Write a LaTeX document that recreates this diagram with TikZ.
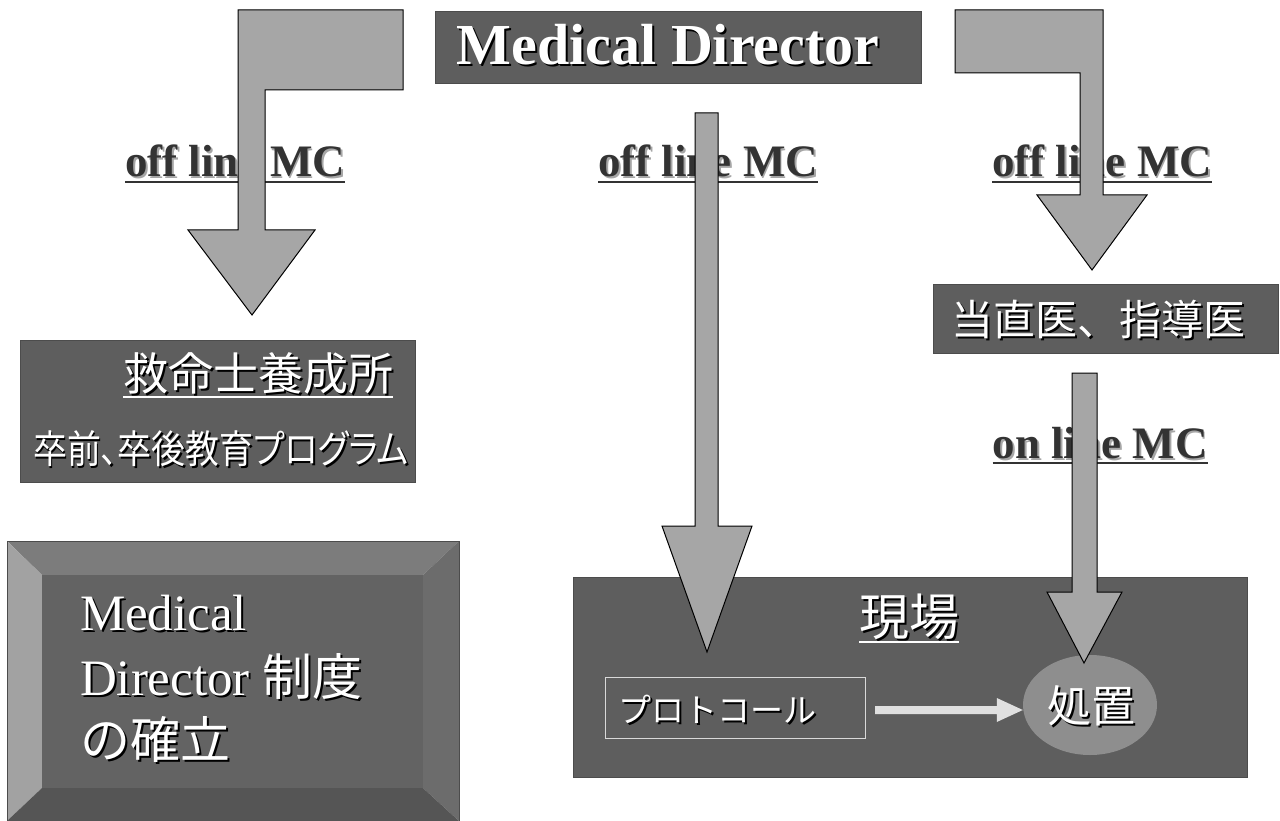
\documentclass[tikz,border=0pt]{standalone}
\usepackage{fontspec}
\usepackage{graphicx}
\setmainfont{Liberation Serif}
\newfontfamily\jp{Noto Sans CJK JP}
\newfontfamily\jpp[RawFeature=+palt]{Noto Sans CJK JP}
\usetikzlibrary{calc,shapes.geometric}
\definecolor{boxgray}{HTML}{5E5E5E}
\definecolor{arrgray}{HTML}{A6A6A6}
\definecolor{ellgray}{HTML}{8E8E8E}
\definecolor{bevtop}{HTML}{7C7C7C}
\definecolor{bevleft}{HTML}{A2A2A2}
\definecolor{bevright}{HTML}{6C6C6C}
\definecolor{bevbot}{HTML}{555555}
\definecolor{bevface}{HTML}{636363}
\newcommand\shd[2][black]{\leavevmode\rlap{\kern2pt\raisebox{-2pt}{\textcolor{#1}{#2}}}#2}
\newcommand\fs[1]{\fontsize{#1}{#1}\selectfont}
\tikzset{
  darkbox/.style={draw=black!70, line width=0.8pt, fill=boxgray, anchor=north west, inner sep=0pt},
  blockarrow/.style={draw=black, line width=1pt, fill=arrgray, line join=miter},
  txt/.style={inner sep=0pt, outer sep=0pt},
  lbl/.style={txt, anchor=base, text=black!80, font=\fs{45}\bfseries},
  ulbl/.style={line width=2pt, black!80},
  uwhite/.style={line width=2pt, white},
  wtxt/.style={txt, text=white},
}
\begin{document}
\begin{tikzpicture}[x=1pt,y=-1pt]
\useasboundingbox (0,0) rectangle (1280,821);
\fill[white] (0,0) rectangle (1280,821);

% title box
\node[darkbox, minimum width=486pt, minimum height=72pt] (md) at (435,11) {};
\node[txt, anchor=base, text=white, font=\fs{58}\bfseries] (mdt) at (668,65) {\shd{Medical Director}};

% boxes
\node[darkbox, minimum width=395pt, minimum height=142pt] (school) at (20,340) {};
\node[darkbox, minimum width=345pt, minimum height=69pt] (doc) at (933,284) {};
\node[darkbox, minimum width=674pt, minimum height=200pt] (field) at (573,577) {};

% texts in boxes
\node[wtxt, font=\jp\fs{45}] (schoolt) at (258,375) {\shd{救命士養成所}};
\draw[uwhite] (schoolt.west |- 0,397) -- (schoolt.east |- 0,397);
\node[wtxt, font=\jpp\fs{39}] (edu) at (221,450) {\scalebox{0.87}[1]{\shd{卒前、卒後教育プログラム}}};
\node[wtxt, font=\jp\fs{42}] (doct) at (1098,320) {\shd{当直医、指導医}};
\node[wtxt, font=\jp\fs{50}] (fieldt) at (909,618) {\shd{現場}};
\draw[uwhite] (fieldt.west |- 0,642) -- (fieldt.east |- 0,642);

% protocol
\node[txt, draw=white!85!black, line width=1pt, minimum width=260pt, minimum height=61pt, anchor=north west] (proto) at (605,677) {};
\node[wtxt, font=\jp\fs{33}] (protot) at (717,710) {\shd{プロトコール}};

% treatment ellipse
\node[ellipse, fill=ellgray, minimum width=134pt, minimum height=100pt, inner sep=0pt] (treat) at (1090,705) {};
\node[wtxt, font=\jp\fs{44}] (treatt) at (1091,707) {\shd{処置}};

% white arrow
\coordinate (wa0) at (proto.east |- 0,710);
\coordinate (wa1) at (treat.west |- 0,710);
\fill[white!88!black] ($(wa0)+(10,-4)$) -- ($(wa1)+(-26,-4)$) -- ($(wa1)+(-26,-12)$) -- ($(wa1)+(0,0)$) -- ($(wa1)+(-26,12)$) -- ($(wa1)+(-26,4)$) -- ($(wa0)+(10,4)$) -- cycle;

% labels
\node[lbl] (l1) at (235,177) {\shd[black!35]{off line MC}};
\draw[ulbl] ($(l1.base west)+(0,5)$) -- ($(l1.base east)+(0,5)$);
\node[lbl] (l2) at (708,177) {\shd[black!35]{off line MC}};
\draw[ulbl] ($(l2.base west)+(0,5)$) -- ($(l2.base east)+(0,5)$);
\node[lbl] (l3) at (1102,177) {\shd[black!35]{off line MC}};
\draw[ulbl] ($(l3.base west)+(0,5)$) -- ($(l3.base east)+(0,5)$);
\node[lbl] (l4) at (1100,458) {\shd[black!35]{on line MC}};
\draw[ulbl] ($(l4.base west)+(0,5)$) -- ($(l4.base east)+(0,5)$);

% block arrows
\coordinate (tipA) at (252,315);
\draw[blockarrow] (403,10) -- (238,10) -- (238,230) -- (188,230) -- (tipA) -- (315,230) -- (265,230) -- (265,90) -- (403,90) -- cycle;
\coordinate (tipB) at (707,652);
\draw[blockarrow] (695,113) -- (718,113) -- (718,526) -- (752,526) -- (tipB) -- (662,526) -- (695,526) -- cycle;
\coordinate (tipC) at (1092,270);
\draw[blockarrow] (955,10) -- (1103,10) -- (1103,195) -- (1147,195) -- (tipC) -- (1037,195) -- (1080,195) -- (1080,73) -- (955,73) -- cycle;
\coordinate (tipD) at (1084,663);
\draw[blockarrow] (1072,373) -- (1097,373) -- (1097,592) -- (1122,592) -- (tipD) -- (1047,592) -- (1072,592) -- cycle;

% bevel box
\fill[bevtop] (7,541) -- (459,541) -- (423,575) -- (42,575) -- cycle;
\fill[bevleft] (7,541) -- (42,575) -- (42,788) -- (7,821) -- cycle;
\fill[bevright] (459,541) -- (459,821) -- (423,788) -- (423,575) -- cycle;
\fill[bevbot] (7,821) -- (42,788) -- (423,788) -- (459,821) -- cycle;
\node[txt, fill=bevface, minimum width=381pt, minimum height=213pt, anchor=north west] (bev) at (42,575) {};
\draw[black!70, line width=0.8pt] (7,541) rectangle (459,821);
\node[wtxt, anchor=base west, font=\fs{51}] (m1) at (80,630) {\shd{Medical}};
\node[wtxt, anchor=base west, font=\fs{51}] (m2) at (80,695) {\shd{Director {\jp\fs{50}制度}}};
\node[wtxt, anchor=base west, font=\jp\fs{50}] (m3) at (80,758) {\shd{の確立}};
\end{tikzpicture}
\end{document}
